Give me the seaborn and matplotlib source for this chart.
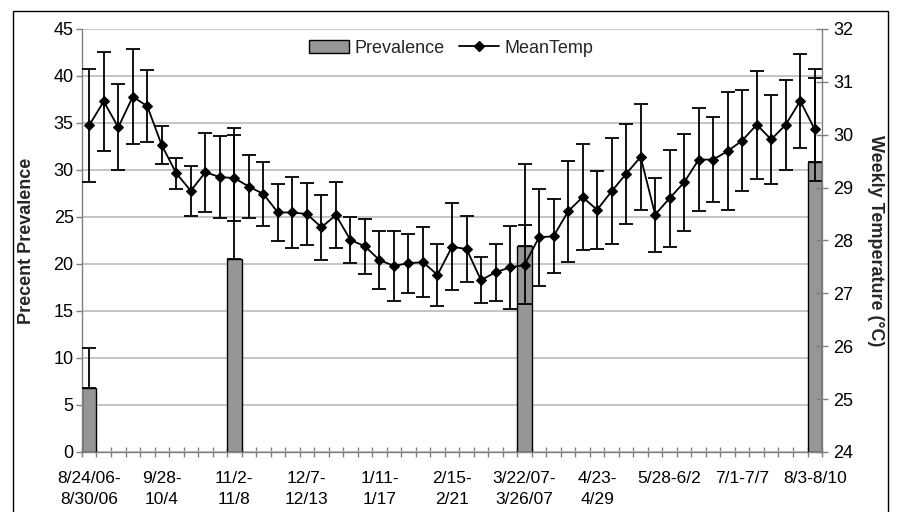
import numpy as np
import pandas as pd
import seaborn as sns
import matplotlib.pyplot as plt
from matplotlib.patches import Patch, Rectangle
from matplotlib.lines import Line2D

# weekly means (week index 0..50)
mean_temp = [30.18, 30.63, 30.14, 30.72, 30.54, 29.80, 29.27, 28.94, 29.29, 29.20,
             29.18, 29.02, 28.88, 28.53, 28.53, 28.50, 28.25, 28.48, 28.01, 27.89,
             27.63, 27.52, 27.57, 27.59, 27.35, 27.88, 27.84, 27.25, 27.40, 27.49,
             27.54, 28.06, 28.08, 28.55, 28.82, 28.58, 28.93, 29.26, 29.58, 28.49,
             28.80, 29.10, 29.53, 29.53, 29.69, 29.89, 30.19, 29.91, 30.19, 30.64,
             30.10]
temp_err = [1.07, 0.93, 0.81, 0.90, 0.68, 0.36, 0.29, 0.47, 0.75, 0.78,
            0.81, 0.60, 0.60, 0.54, 0.68, 0.58, 0.61, 0.63, 0.44, 0.52,
            0.55, 0.66, 0.56, 0.66, 0.58, 0.82, 0.62, 0.43, 0.54, 0.79,
            0.75, 0.92, 0.70, 0.95, 1.00, 0.74, 1.00, 0.94, 1.00, 0.70,
            0.92, 0.92, 0.98, 0.81, 1.12, 0.96, 1.02, 0.84, 0.85, 0.89,
            0.97]

prev_week = [0, 10, 30, 50]
prevalence = [6.8, 20.5, 21.9, 30.9]
prev_err = [4.3, 14.0, 8.7, 9.8]

label_weeks = [0, 5, 10, 15, 20, 25, 30, 35, 40, 45, 50]
week_labels = ["8/24/06-\n8/30/06", "9/28-\n10/4", "11/2-\n11/8", "12/7-\n12/13",
               "1/11-\n1/17", "2/15-\n2/21", "3/22/07-\n3/26/07", "4/23-\n4/29",
               "5/28-6/2", "7/1-7/7", "8/3-8/10"]

n_weeks = len(mean_temp)
weeks = list(range(n_weeks))

sns.set_theme(style="white")
plt.rcParams['font.family'] = ['Liberation Sans', 'DejaVu Sans']
plt.rcParams['font.style'] = 'normal'

fig = plt.figure(figsize=(8.97, 5.12), dpi=100)
ax = fig.add_axes([0.0914, 0.1172, 0.825, 0.8262])

# prevalence bars (only 4 sampled weeks)
prev_df = pd.DataFrame({"week": prev_week, "prev": prevalence})
sns.barplot(data=prev_df, x="week", y="prev", order=weeks, width=1.0,
            color="#969696", edgecolor="black", linewidth=1.0, saturation=1,
            errorbar=None, ax=ax)
ax.errorbar(prev_week, prevalence, yerr=[np.zeros(len(prev_err)), prev_err],
            fmt="none", ecolor="black", elinewidth=1.3, capsize=5, capthick=1.3, zorder=3)

ax.set_ylim(0, 45)
ax.set_yticks(range(0, 46, 5))
ax.set_xlim(-0.5, n_weeks - 0.5)
ax.set_xticks(label_weeks)
ax.set_xticklabels(week_labels, linespacing=1.5)
ax.set_xticks(np.arange(-0.5, n_weeks, 1), minor=True)
ax.tick_params(axis="x", which="major", length=0, pad=14, labelsize=12.5, colors="black")
ax.tick_params(axis="x", which="minor", direction="inout", length=7, width=1, color="#808080", bottom=True)
ax.tick_params(axis="y", direction="out", length=4, width=1, color="#808080", left=True,
               labelsize=13, labelcolor="black", pad=2)
ax.yaxis.grid(True, color="#c0c0c0", linewidth=1.3)
ax.set_axisbelow(True)
ax.set_xlabel("")
ax.set_ylabel("Precent Prevalence", fontsize=13, fontweight="bold", labelpad=13)
for s in ["top", "right"]:
    ax.spines[s].set_visible(False)
for s in ["left", "bottom"]:
    ax.spines[s].set_color("#808080")
    ax.spines[s].set_linewidth(1.0)

# weekly mean temperature on the right axis
ax2 = ax.twinx()
temp_df = pd.DataFrame({"week": weeks, "temp": mean_temp})
ax2.errorbar(weeks, mean_temp, yerr=temp_err, fmt="none", ecolor="black",
             elinewidth=1.3, capsize=5, capthick=1.3, zorder=2)
sns.lineplot(data=temp_df, x="week", y="temp", color="black", linewidth=1.3,
             marker="D", markersize=5.5, markeredgecolor="black", ax=ax2, zorder=3)
ax2.set_ylim(24, 32)
ax2.set_yticks(range(24, 33))
ax2.tick_params(axis="y", direction="inout", length=8, width=1, color="#808080", right=True,
                labelsize=13, labelcolor="black", pad=4)
ax2.set_ylabel("Weekly Temperature (°C)", fontsize=13, fontweight="bold",
               rotation=270, labelpad=22)
ax2.set_xlabel("")
for s in ["top", "left", "bottom"]:
    ax2.spines[s].set_visible(False)
ax2.spines["right"].set_color("#808080")
ax2.spines["right"].set_linewidth(1.0)
ax2.grid(False)

handles = [Patch(facecolor="#969696", edgecolor="black", linewidth=1.0),
           Line2D([], [], color="black", linewidth=1.3, marker="D", markersize=5.5)]
fig.legend(handles, ["Prevalence", "MeanTemp"], loc="center", bbox_to_anchor=(0.503, 0.906),
           ncol=2, frameon=False, prop={"family": ["Liberation Sans"], "style": "normal", "size": 13},
           handlelength=2.2, handleheight=0.8, columnspacing=0.8, handletextpad=0.3)

# outer chart border (bottom edge falls outside the image)
fig.patches.append(Rectangle((12.5 / 897, -0.02), (888 - 12.5) / 897, 1.02 - 11 / 512,
                             transform=fig.transFigure, fill=False,
                             edgecolor="black", linewidth=1.0))

fig.savefig("out.png", dpi=100)
